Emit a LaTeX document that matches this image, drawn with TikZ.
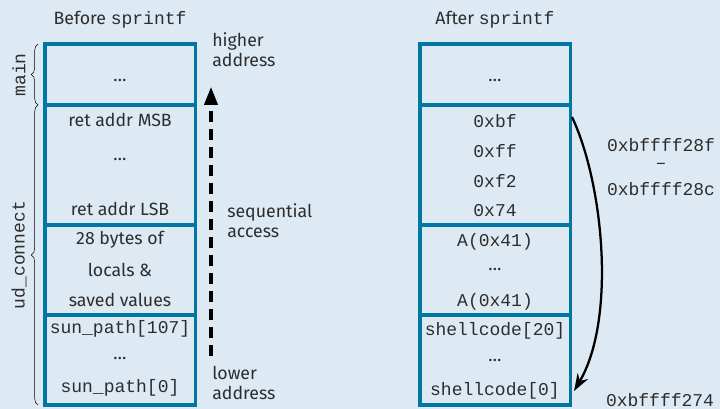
\documentclass[tikz,border=0pt]{standalone}
\usepackage{fontspec}
\setmainfont{Fira Sans}
\setmonofont{Liberation Mono}
\usepackage{tikz}
\usetikzlibrary{arrows.meta,decorations.pathreplacing,positioning}
\definecolor{stackblue}{RGB}{0,120,163}
\definecolor{paneblue}{RGB}{221,234,244}
\definecolor{inkgray}{RGB}{45,45,45}

\begin{document}
\begin{tikzpicture}[x=0.75pt, y=-0.75pt, font=\fontsize{13.3}{15}\selectfont, text=inkgray,
    seg/.style={draw=stackblue, line width=2.3pt, minimum width=113pt, inner sep=0, outer sep=0, anchor=north west},
    cell/.style={inner sep=0},
    mono/.style={inner sep=0, font=\fontsize{13.5}{15}\ttfamily},
    stackbrace/.style={decorate, decoration={brace, amplitude=5pt}, thin, black}]
  % Background
  \fill[paneblue] (0,0) rectangle (720,409);
  \useasboundingbox (0,0) rectangle (720,409);
  % Titles
  \node[cell] (tbefore) at (120,20) {Before \texttt{\fontsize{13.5}{15}\selectfont sprintf}};
  \node[cell] (tafter) at (495,20) {After \texttt{\fontsize{13.5}{15}\selectfont sprintf}};
  % Left stack (before)
  \node[seg, minimum height=45.75pt] (lmain) at (45,44) {};
  \node[seg, minimum height=90pt] (lret) at (45,105) {};
  \node[seg, minimum height=67.5pt] (lloc) at (45,225) {};
  \node[seg, minimum height=67.5pt] (lbuf) at (45,315) {};
  \node[cell] (lm1) at (120,80) {\dots};
  \node[cell] (lr1) at (120,120) {ret addr MSB};
  \node[cell] (lr2) at (120,159) {\dots};
  \node[cell] (lr3) at (120,209) {ret addr LSB};
  \node[cell] (ll1) at (120,240) {28 bytes of};
  \node[cell] (ll2) at (120,270) {locals \&};
  \node[cell] (ll3) at (120,300) {saved values};
  \node[mono] (lb1) at (120,329) {sun\_path[107]};
  \node[cell] (lb2) at (120,358) {\dots};
  \node[mono] (lb3) at (120,388) {sun\_path[0]};
  % Right stack (after)
  \node[seg, minimum height=45.75pt] (rmain) at (420,44) {};
  \node[seg, minimum height=90pt] (rret) at (420,105) {};
  \node[seg, minimum height=67.5pt] (rloc) at (420,225) {};
  \node[seg, minimum height=67.5pt] (rbuf) at (420,315) {};
  \node[cell] (rm1) at (495,80) {\dots};
  \node[mono] (rr1) at (495,121) {0xbf};
  \node[mono] (rr2) at (495,151) {0xff};
  \node[mono] (rr3) at (495,181) {0xf2};
  \node[mono] (rr4) at (495,211) {0x74};
  \node[mono] (rl1) at (495,242) {A(0x41)};
  \node[cell] (rl2) at (495,269) {\dots};
  \node[mono] (rl3) at (495,302) {A(0x41)};
  \node[mono] (rb1) at (495,331) {shellcode[20]};
  \node[cell] (rb2) at (495,360) {\dots};
  \node[mono] (rb3) at (495,391) {shellcode[0]};
  % Frame braces
  \draw[stackbrace] (38,105) -- (38,44);
  \draw[stackbrace] (38,405) -- (38,105);
  \node[mono, rotate=90] (bmain) at (19,75) {main};
  \node[mono, rotate=90] (bud) at (19,255) {ud\_connect};
  % Sequential access arrow
  \node[cell, align=left, anchor=north west] (thigh) at (212,32) {higher\\address};
  \node[cell, align=left, anchor=north west] (tseq) at (227,203) {sequential\\access};
  \node[cell, align=left, anchor=north west] (tlow) at (212,366) {lower\\address};
  \coordinate (alow) at (211,356);
  \coordinate (ahigh) at (211,87);
  \draw[line width=2.4pt, dash pattern=on 8.5pt off 5pt, -{Triangle[length=13.5pt,width=10pt]}] (alow) -- (ahigh);
  % Overwritten return address
  \coordinate (jfrom) at (572,117);
  \coordinate (jto) at (574,391);
  \draw[line width=1.7pt, -{Stealth[length=13pt,width=9pt]}] (jfrom) .. controls (604,185) and (616,320) .. (jto);
  \node[mono] (aret1) at (661,145) {0xbffff28f};
  \node[mono] (adash) at (661,166) {\textendash};
  \node[mono] (aret2) at (661,189) {0xbffff28c};
  \node[mono] (abuf) at (660,400) {0xbffff274};
\end{tikzpicture}
\end{document}
